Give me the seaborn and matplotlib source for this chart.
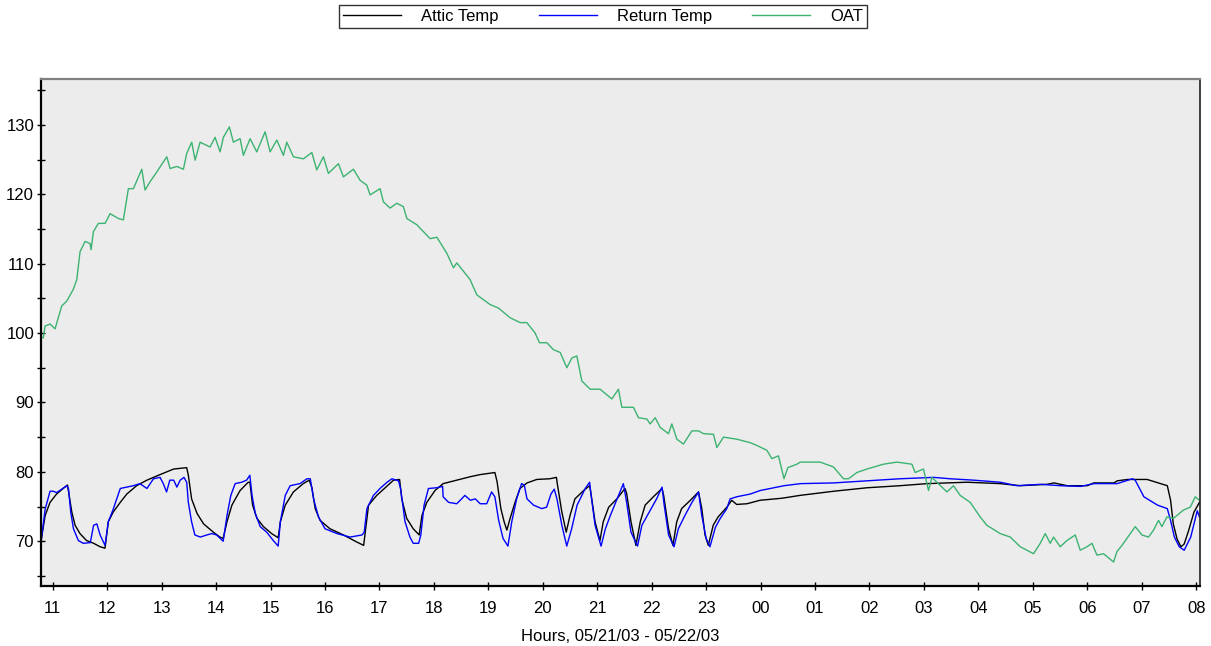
import pandas as pd
import numpy as np
import matplotlib
matplotlib.use('Agg')
import matplotlib.pyplot as plt
from matplotlib.lines import Line2D
from matplotlib.ticker import MultipleLocator
import seaborn as sns

# hours since midnight 05/21/03 (24+ = next day), temps in F
attic_hours = [10.79, 10.86, 10.95, 11.07, 11.19, 11.27, 11.30, 11.35, 11.41, 11.50, 11.62, 11.75, 11.87, 11.96,
               12.02, 12.11, 12.24, 12.36, 12.54, 12.73, 12.97, 13.22, 13.46, 13.49, 13.55, 13.65, 13.77, 13.95,
               14.07, 14.13, 14.20, 14.29, 14.44, 14.59, 14.62, 14.67, 14.75, 14.87, 15.02, 15.14, 15.18, 15.27,
               15.42, 15.60, 15.71, 15.76, 15.82, 15.91, 16.09, 16.34, 16.58, 16.71, 16.74, 16.80, 16.95, 17.26,
               17.37, 17.41, 17.50, 17.62, 17.73, 17.78, 17.87, 18.02, 18.17, 18.42, 18.67, 18.85, 19.12, 19.16,
               19.23, 19.29, 19.34, 19.40, 19.49, 19.58, 19.71, 19.89, 20.13, 20.25, 20.27, 20.35, 20.43, 20.50,
               20.59, 20.75, 20.86, 20.88, 20.96, 21.05, 21.11, 21.21, 21.36, 21.51, 21.54, 21.62, 21.71, 21.79,
               21.88, 22.03, 22.19, 22.22, 22.31, 22.39, 22.46, 22.55, 22.71, 22.86, 22.92, 22.98, 23.04, 23.13,
               23.22, 23.38, 23.47, 23.56, 23.75, 23.99, 24.40, 24.72, 25.34, 25.95, 26.56, 27.06, 27.79, 28.40,
               28.77, 29.26, 29.39, 29.63, 30.00, 30.12, 30.49, 30.55, 30.74, 31.10, 31.47, 31.53, 31.58, 31.65,
               31.72, 31.78, 31.86, 31.96, 32.06]
attic_temp = [70.3, 73.7, 75.6, 76.8, 77.6, 78.1, 76.6, 74.2, 72.3, 71.1, 70.1, 69.7, 69.2, 69.0,
              72.8, 74.2, 75.6, 76.8, 78.0, 78.8, 79.6, 80.4, 80.6, 79.5, 76.1, 74.0, 72.5, 71.3,
              70.6, 70.4, 72.8, 75.2, 77.3, 78.5, 78.5, 75.2, 73.3, 72.1, 71.1, 70.5, 72.8, 75.2,
              77.1, 78.3, 78.8, 77.7, 74.7, 73.0, 71.8, 70.9, 69.9, 69.4, 71.3, 75.2, 76.6, 78.8,
              78.9, 76.1, 73.3, 71.8, 70.9, 73.7, 75.6, 77.3, 78.3, 78.8, 79.3, 79.6, 79.9, 78.6,
              74.7, 72.8, 71.6, 73.3, 75.6, 77.6, 78.4, 78.9, 79.0, 79.2, 78.1, 74.2, 71.3, 73.7,
              76.1, 77.3, 78.0, 77.1, 72.8, 70.1, 72.8, 74.9, 76.1, 77.6, 76.9, 72.8, 69.4, 72.8,
              75.2, 76.4, 77.6, 76.6, 71.8, 69.4, 72.8, 74.7, 75.9, 77.1, 74.7, 70.9, 69.4, 72.3,
              73.5, 74.9, 75.9, 75.3, 75.4, 75.9, 76.2, 76.6, 77.2, 77.7, 78.0, 78.3, 78.5, 78.3,
              78.0, 78.2, 78.4, 78.0, 78.0, 78.4, 78.4, 78.7, 78.9, 78.9, 78.0, 75.9, 72.5, 70.3,
              69.2, 69.6, 71.5, 74.2, 75.6]

return_hours = [10.79, 10.86, 10.95, 11.01, 11.07, 11.26, 11.29, 11.33, 11.38, 11.47, 11.56, 11.69, 11.75, 11.81,
                11.87, 11.96, 12.02, 12.11, 12.24, 12.36, 12.48, 12.60, 12.73, 12.85, 12.97, 13.03, 13.09, 13.15,
                13.22, 13.28, 13.34, 13.41, 13.46, 13.49, 13.55, 13.61, 13.71, 13.83, 13.92, 14.01, 14.13, 14.20,
                14.27, 14.35, 14.47, 14.56, 14.62, 14.66, 14.72, 14.81, 14.93, 15.05, 15.14, 15.18, 15.27, 15.36,
                15.54, 15.67, 15.73, 15.79, 15.88, 16.00, 16.22, 16.46, 16.68, 16.72, 16.77, 16.89, 17.01, 17.14,
                17.23, 17.35, 17.39, 17.47, 17.56, 17.62, 17.72, 17.76, 17.82, 17.90, 18.05, 18.16, 18.17, 18.27,
                18.42, 18.57, 18.67, 18.76, 18.85, 18.97, 19.06, 19.12, 19.19, 19.27, 19.36, 19.43, 19.52, 19.61,
                19.66, 19.71, 19.83, 19.98, 20.07, 20.15, 20.21, 20.26, 20.35, 20.44, 20.53, 20.63, 20.78, 20.86,
                20.88, 20.96, 21.07, 21.15, 21.24, 21.39, 21.48, 21.54, 21.62, 21.74, 21.82, 21.94, 22.09, 22.19,
                22.23, 22.31, 22.41, 22.49, 22.61, 22.74, 22.86, 22.92, 23.00, 23.07, 23.17, 23.26, 23.38, 23.44,
                23.56, 23.81, 23.99, 24.43, 24.74, 25.34, 25.95, 26.56, 27.18, 27.48, 27.91, 28.40, 28.71, 29.14,
                29.51, 29.88, 30.12, 30.55, 30.83, 30.88, 31.04, 31.29, 31.47, 31.53, 31.60, 31.69, 31.78, 31.90,
                32.02, 32.06]
return_temp = [70.2, 74.6, 77.2, 77.2, 77.0, 78.0, 77.5, 74.2, 71.8, 70.1, 69.7, 69.8, 72.3, 72.5,
               70.9, 69.4, 72.8, 74.6, 77.6, 77.8, 78.0, 78.3, 77.6, 79.0, 79.2, 78.3, 77.1, 78.8,
               78.8, 77.8, 78.8, 79.2, 78.5, 75.6, 72.8, 70.9, 70.6, 70.9, 71.1, 70.9, 70.0, 73.7,
               76.6, 78.3, 78.5, 78.8, 79.5, 76.6, 74.0, 72.1, 71.3, 70.1, 69.3, 72.8, 76.6, 78.0,
               78.3, 79.0, 79.0, 76.1, 73.5, 71.8, 71.1, 70.6, 70.9, 71.3, 74.7, 76.6, 77.6, 78.5,
               79.0, 78.7, 77.5, 72.8, 70.6, 69.7, 69.7, 70.9, 75.2, 77.6, 77.7, 77.9, 76.4, 75.6,
               75.4, 76.6, 75.9, 76.1, 75.4, 75.4, 77.1, 76.4, 73.0, 70.4, 69.3, 72.8, 76.1, 78.3,
               78.1, 76.1, 75.2, 74.7, 74.9, 76.8, 77.5, 76.1, 72.3, 69.3, 71.8, 75.2, 77.6, 78.5,
               77.1, 72.3, 69.3, 71.8, 73.7, 76.6, 78.3, 75.6, 71.3, 69.3, 72.3, 74.0, 76.1, 77.8,
               75.2, 70.9, 69.2, 71.8, 73.7, 75.6, 77.1, 73.7, 70.4, 69.2, 72.0, 73.3, 74.7, 76.1,
               76.4, 76.8, 77.3, 78.0, 78.3, 78.4, 78.7, 79.0, 79.2, 79.0, 78.8, 78.5, 78.0, 78.2,
               78.0, 77.9, 78.3, 78.3, 79.0, 78.8, 76.4, 75.2, 74.7, 73.0, 70.6, 69.2, 68.7, 70.6,
               74.4, 73.5]

oat_hours = [10.785, 10.827, 10.859, 10.95, 11.042, 11.165, 11.257, 11.378, 11.441, 11.501, 11.593, 11.685,
             11.704, 11.746, 11.838, 11.961, 12.053, 12.205, 12.297, 12.389, 12.481, 12.635, 12.695, 12.787,
             12.910, 13.094, 13.155, 13.278, 13.399, 13.461, 13.553, 13.614, 13.706, 13.889, 13.981, 14.073,
             14.134, 14.244, 14.317, 14.441, 14.501, 14.624, 14.747, 14.900, 14.992, 15.115, 15.236, 15.298,
             15.420, 15.603, 15.758, 15.849, 15.971, 16.062, 16.246, 16.338, 16.522, 16.645, 16.768, 16.828,
             17.012, 17.073, 17.196, 17.319, 17.440, 17.503, 17.686, 17.931, 18.054, 18.237, 18.359, 18.421,
             18.542, 18.665, 18.788, 18.910, 19.033, 19.185, 19.400, 19.584, 19.707, 19.859, 19.939, 20.074,
             20.196, 20.319, 20.442, 20.534, 20.625, 20.717, 20.870, 21.053, 21.268, 21.389, 21.452, 21.665,
             21.757, 21.911, 21.972, 22.064, 22.156, 22.308, 22.370, 22.462, 22.583, 22.738, 22.859, 22.951,
             23.135, 23.197, 23.318, 23.564, 23.809, 23.932, 24.116, 24.207, 24.329, 24.43, 24.50, 24.667,
             24.727, 25.095, 25.339, 25.523, 25.615, 25.769, 25.952, 26.257, 26.503, 26.779, 26.839, 26.992,
             27.084, 27.146, 27.238, 27.422, 27.543, 27.666, 27.850, 28.033, 28.156, 28.401, 28.586, 28.769,
             29.013, 29.136, 29.228, 29.320, 29.380, 29.503, 29.626, 29.779, 29.871, 29.994, 30.086, 30.178,
             30.299, 30.483, 30.545, 30.637, 30.881, 31.004, 31.125, 31.217, 31.309, 31.371, 31.463, 31.584,
             31.768, 31.891, 31.983, 32.06]
oat_temp = [99.4, 99.3, 101.0, 101.3, 100.6, 103.9, 104.6, 106.3, 107.7, 111.7, 113.2, 112.9,
            112.0, 114.6, 115.8, 115.8, 117.2, 116.5, 116.3, 120.8, 120.8, 123.6, 120.6, 121.8,
            123.2, 125.4, 123.7, 124.0, 123.6, 125.9, 127.5, 124.9, 127.5, 126.8, 128.2, 126.1,
            128.2, 129.7, 127.5, 128.0, 125.6, 128.0, 126.1, 129.0, 126.1, 127.8, 125.6, 127.5,
            125.4, 125.1, 126.0, 123.5, 125.4, 123.0, 124.4, 122.5, 123.6, 122.0, 121.3, 119.9,
            120.8, 118.9, 118.0, 118.7, 118.2, 116.5, 115.6, 113.6, 113.8, 111.5, 109.4, 110.1,
            108.9, 107.7, 105.5, 104.8, 104.1, 103.6, 102.2, 101.5, 101.5, 100.0, 98.6, 98.6,
            97.6, 97.2, 95.0, 96.4, 96.7, 93.1, 91.9, 91.9, 90.5, 91.9, 89.3, 89.3,
            87.8, 87.6, 86.9, 87.8, 86.4, 85.5, 86.9, 84.7, 84.0, 85.9, 85.9, 85.5,
            85.4, 83.5, 85.0, 84.7, 84.2, 83.8, 83.1, 81.9, 82.3, 79.0, 80.6, 81.1,
            81.4, 81.4, 80.7, 79.0, 79.0, 79.9, 80.4, 81.1, 81.4, 81.1, 79.9, 80.4,
            77.3, 79.2, 78.5, 77.1, 78.0, 76.6, 75.6, 73.5, 72.3, 71.1, 70.6, 69.2,
            68.2, 69.7, 71.1, 69.7, 70.6, 69.2, 70.1, 70.9, 68.7, 69.2, 69.7, 68.0,
            68.2, 67.0, 68.5, 69.4, 72.1, 70.9, 70.6, 71.6, 73.0, 72.1, 73.5, 73.3,
            74.5, 74.9, 76.4, 75.9]

series_names = ['Attic Temp', 'Return Temp', 'OAT']
series_colors = ['#000000', '#0000ff', '#3cb371']
tick_hours = list(range(11, 33))
tick_labels = ['%02d' % (h % 24) for h in tick_hours]

df = pd.concat([
    pd.DataFrame({'hours': attic_hours, 'temp': attic_temp, 'series': 'Attic Temp'}),
    pd.DataFrame({'hours': return_hours, 'temp': return_temp, 'series': 'Return Temp'}),
    pd.DataFrame({'hours': oat_hours, 'temp': oat_temp, 'series': 'OAT'}),
], ignore_index=True)

plt.rcParams['font.family'] = ['Liberation Sans', 'DejaVu Sans']

fig = plt.figure(figsize=(12.11, 6.46), dpi=100)
ax = fig.add_axes([0.0339, 0.0929, 0.957, 0.7848])
ax.set_facecolor('#ececec')

palette = dict(zip(series_names, series_colors))
sns.lineplot(data=df, x='hours', y='temp', hue='series', hue_order=series_names,
             palette=palette, estimator=None, sort=False, linewidth=1.0, ax=ax, legend=False)

ax.set_xlim(10.785, 32.07)
ax.set_ylim(63.55, 136.6)
ax.set_xticks(tick_hours)
ax.set_xticklabels(tick_labels)
ax.yaxis.set_major_locator(MultipleLocator(10))
ax.yaxis.set_minor_locator(MultipleLocator(5))
ax.tick_params(axis='both', which='both', direction='inout', length=6, width=1,
               labelsize=12, colors='black')
ax.tick_params(axis='y', which='major', pad=2)
ax.tick_params(axis='x', which='major', pad=8)
ax.set_ylabel('')
ax.set_xlabel('Hours, 05/21/03 - 05/22/03', fontsize=12, labelpad=9)

ax.spines['left'].set_linewidth(1.6)
ax.spines['bottom'].set_linewidth(1.6)
ax.spines['left'].set_color('black')
ax.spines['bottom'].set_color('black')
ax.spines['top'].set_color('#808080')
ax.spines['top'].set_linewidth(1.6)
ax.spines['right'].set_color('#202020')
ax.spines['right'].set_linewidth(1.2)

handles = [Line2D([], [], color=c, lw=1.0) for c in series_colors]
leg = fig.legend(handles, series_names, loc='center', bbox_to_anchor=(0.498, 0.974), ncol=3,
                 fontsize=12, handlelength=3.5, handletextpad=1.2, columnspacing=2.4,
                 frameon=True, fancybox=False, borderpad=0.25, borderaxespad=0)
leg.get_frame().set_edgecolor('black')
leg.get_frame().set_linewidth(1.0)

fig.savefig('out.png', dpi=100)
